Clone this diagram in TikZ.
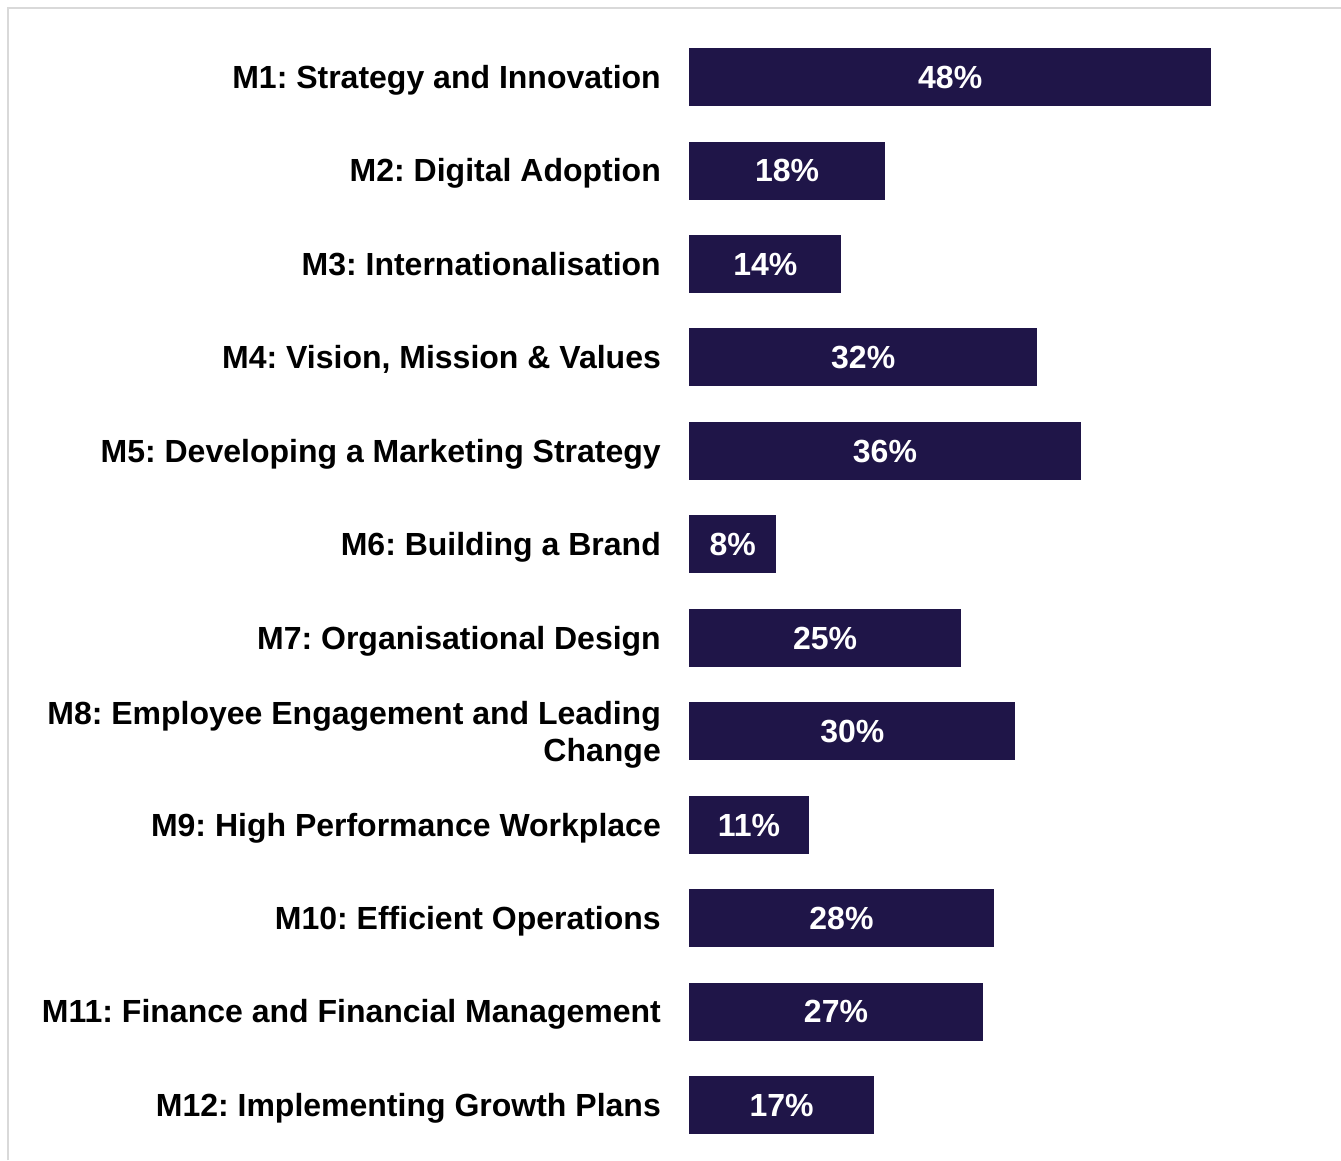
\documentclass[tikz,border=0pt]{standalone}
\usepackage{fontspec}
\setmainfont{Liberation Sans}
\usepackage{tikz}
\usetikzlibrary{positioning}

\definecolor{barnavy}{RGB}{31,21,72}
\definecolor{framegray}{RGB}{217,217,217}
\frenchspacing

\begin{document}
\begin{tikzpicture}[x=1pt, y=-1pt,
  lbl/.style={font=\fontsize{32}{37}\selectfont\bfseries, inner sep=0pt, anchor=east,
    text height=22.9pt, text depth=0pt},
  bar/.style={fill=barnavy, text=white, font=\fontsize{32}{37}\selectfont\bfseries,
    inner sep=0pt, anchor=west, minimum height=58pt, minimum width=#1*10.875pt,
    text height=22.9pt, text depth=0pt}]

\useasboundingbox (0,0) rectangle (1341,1160);
\draw[framegray, line width=2pt] (8,1160) -- (8,8) -- (1341,8);

% bars
\node[bar=48] (b1) at (689,77) {48\%};
\node[bar=18] (b2) at (689,170.5) {18\%};
\node[bar=14] (b3) at (689,263.9) {14\%};
\node[bar=32] (b4) at (689,357.4) {32\%};
\node[bar=36] (b5) at (689,450.8) {36\%};
\node[bar=8] (b6) at (689,544.3) {8\%};
\node[bar=25] (b7) at (689,637.7) {25\%};
\node[bar=30] (b8) at (689,731.2) {30\%};
\node[bar=11] (b9) at (689,824.6) {11\%};
\node[bar=28] (b10) at (689,918.1) {28\%};
\node[bar=27] (b11) at (689,1011.5) {27\%};
\node[bar=17] (b12) at (689,1105) {17\%};

% module names
\node[lbl, left=28pt of b1] (l1) {M1: Strategy and Innovation};
\node[lbl, left=28pt of b2] (l2) {M2: Digital Adoption};
\node[lbl, left=28pt of b3] (l3) {M3: Internationalisation};
\node[lbl, left=28pt of b4] (l4) {M4: Vision, Mission \& Values};
\node[lbl, left=28pt of b5] (l5) {M5: Developing a Marketing Strategy};
\node[lbl, left=28pt of b6] (l6) {M6: Building a Brand};
\node[lbl, left=28pt of b7] (l7) {M7: Organisational Design};
\node[lbl, left=28pt of b8, text height=, text depth=, align=right, yshift=-4pt] (l8) {M8: Employee Engagement and Leading\\Change};
\node[lbl, left=28pt of b9] (l9) {M9: High Performance Workplace};
\node[lbl, left=28pt of b10] (l10) {M10: Efficient Operations};
\node[lbl, left=28pt of b11] (l11) {M11: Finance and Financial Management};
\node[lbl, left=28pt of b12] (l12) {M12: Implementing Growth Plans};
\end{tikzpicture}
\end{document}
